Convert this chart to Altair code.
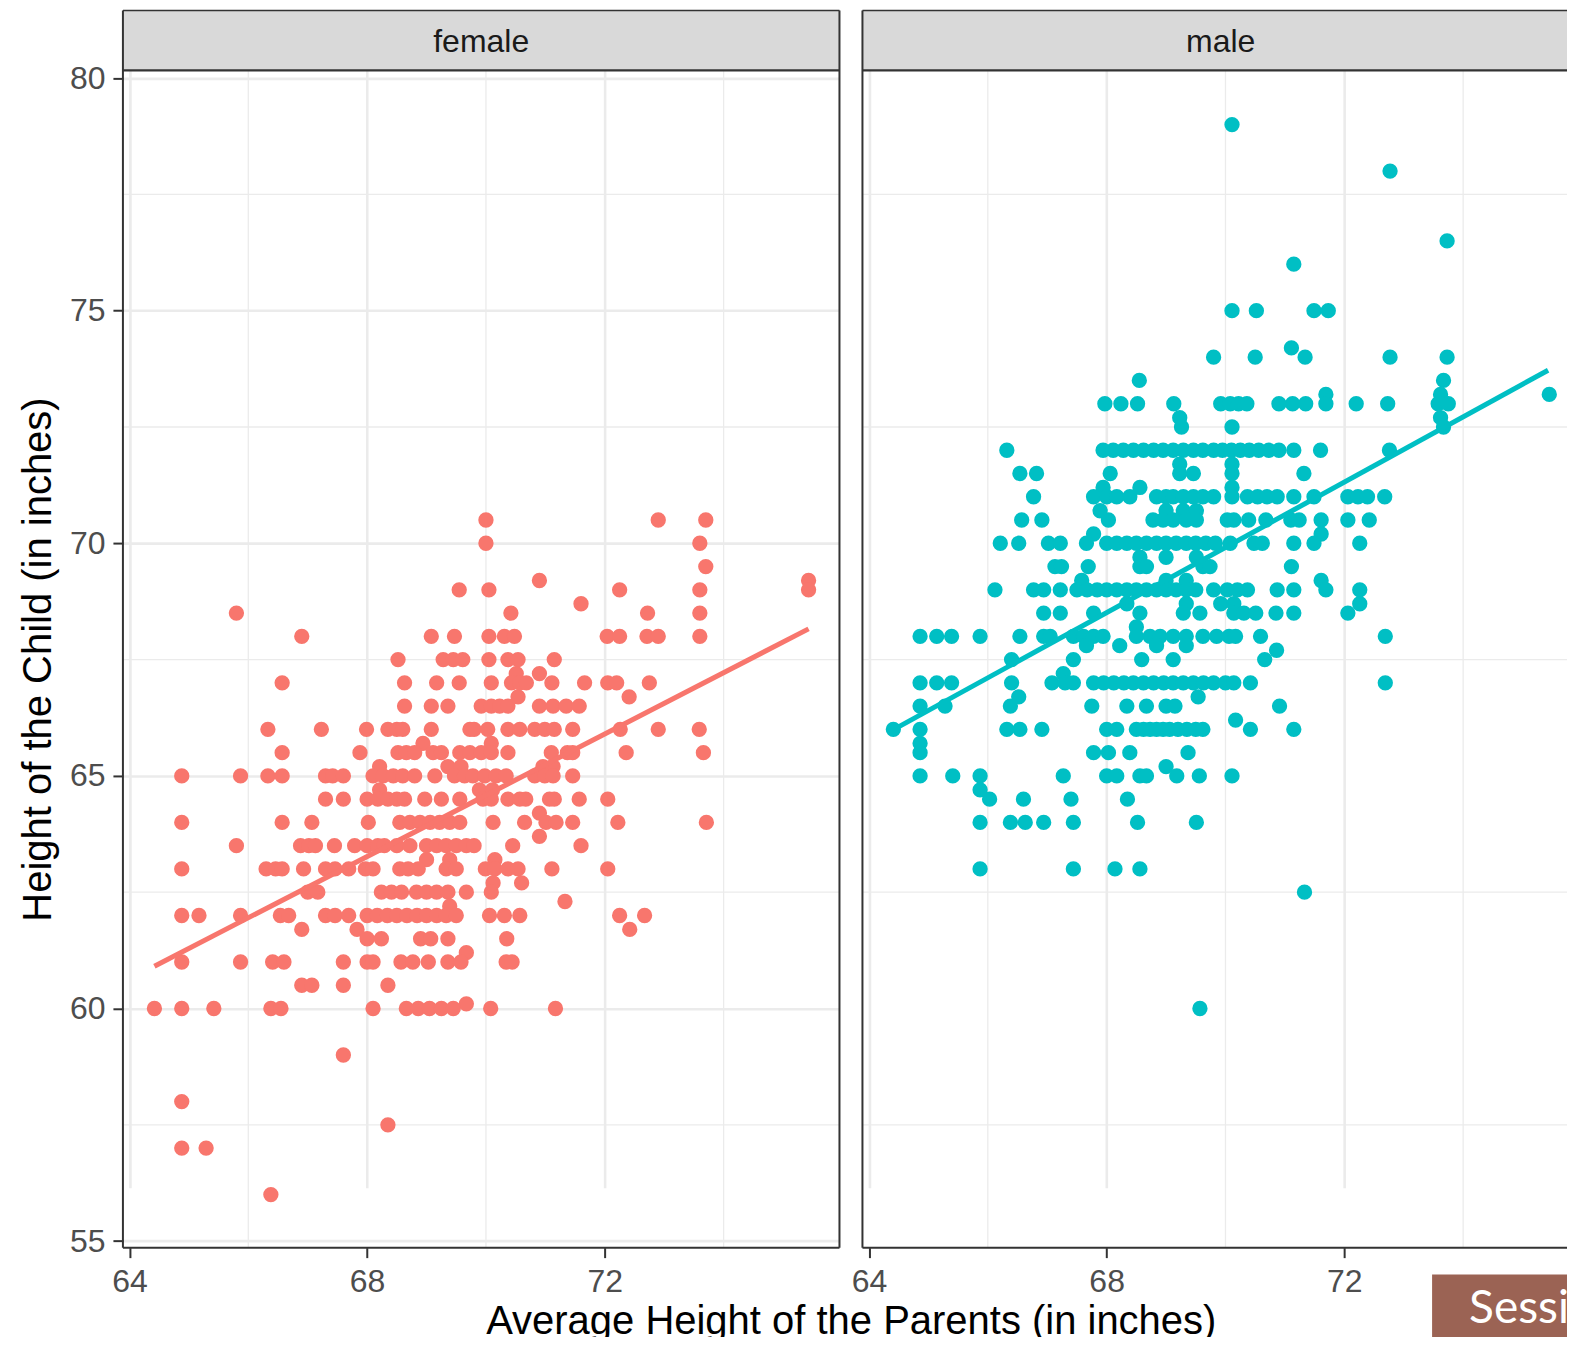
import altair as alt
import pandas as pd

# ---------------- data ----------------
panels = ["female", "male"]
panel_colors = ["#F8766D", "#00BFC4"]

# (child height, [average parent heights ...])
female_rows = [
    (70.5, [70.0, 72.9, 73.7]),
    (70.0, [70.0, 73.6]),
    (69.5, [73.7]),
    (69.2, [70.9, 75.43]),
    (69.0, [69.55, 70.05, 72.25, 73.6, 75.43]),
    (68.7, [71.6]),
    (68.5, [65.8, 70.42, 72.72, 73.6]),
    (68.0, [66.9, 69.08, 69.47, 70.05, 70.31, 70.48, 72.04, 72.25, 72.71, 72.9, 73.6]),
    (67.5, [68.52, 69.28, 69.45, 69.61, 70.05, 70.37, 70.54, 71.15]),
    (67.2, [70.51, 70.9]),
    (67.0, [66.57, 68.63, 69.17, 69.55, 70.09, 70.43, 70.57, 70.68, 71.11, 71.66, 72.05, 72.2, 72.75]),
    (66.7, [70.54, 72.41]),
    (66.5, [68.63, 69.08, 69.36, 69.92, 70.09, 70.23, 70.37, 70.9, 71.13, 71.35, 71.57]),
    (66.0, [66.33, 67.23, 67.99, 68.35, 68.5, 68.6, 69.08, 69.73, 69.8, 70.03, 70.37, 70.57,
            70.82, 70.99, 71.15, 71.46, 72.26, 72.9, 73.59]),
    (65.7, [68.94, 70.09]),
    (65.5, [66.57, 67.88, 68.52, 68.66, 68.8, 69.11, 69.25, 69.56, 69.73, 69.92, 70.09, 70.37,
            71.1, 71.37, 71.46, 72.36, 73.66]),
    (65.2, [68.21, 69.36, 69.58, 70.96, 71.13]),
    (65.0, [64.88, 65.87, 66.33, 66.57, 67.3, 67.42, 67.6, 68.1, 68.27, 68.44, 68.6, 68.8, 69.14,
            69.47, 69.64, 69.78, 69.98, 70.17, 70.34, 70.82, 70.99, 71.13, 71.46]),
    (64.7, [68.21, 69.89, 70.11]),
    (64.5, [67.3, 67.6, 68.0, 68.18, 68.35, 68.5, 68.63, 68.97, 69.25, 69.56, 69.95, 70.09, 70.37,
            70.57, 70.67, 71.07, 71.15, 71.57, 72.05]),
    (64.2, [70.9]),
    (64.0, [64.88, 66.57, 67.07, 68.02, 68.55, 68.72, 68.89, 69.06, 69.22, 69.39, 69.56, 70.12,
            70.65, 71.01, 71.18, 71.46, 72.22, 73.71]),
    (63.7, [70.9]),
    (63.5, [65.8, 66.88, 67.02, 67.13, 67.45, 67.79, 68.0, 68.18, 68.29, 68.5, 68.72, 69.0, 69.17,
            69.33, 69.5, 69.67, 69.8, 70.45, 71.6]),
    (63.2, [69.0, 69.39, 70.15]),
    (63.0, [64.88, 66.3, 66.46, 66.57, 66.93, 67.3, 67.46, 67.69, 67.97, 68.1, 68.55, 68.69, 68.86,
            69.33, 69.5, 69.99, 70.15, 70.37, 70.54, 71.11, 72.05]),
    (62.7, [70.12, 70.6]),
    (62.5, [67.0, 67.17, 68.24, 68.41, 68.58, 68.83, 69.0, 69.17, 69.36, 69.67, 70.09]),
    (62.3, [71.33]),
    (62.2, [69.39]),
    (62.0, [64.88, 65.17, 65.87, 66.54, 66.68, 67.3, 67.46, 67.69, 68.0, 68.17, 68.34, 68.5, 68.67,
            68.84, 69.0, 69.17, 69.33, 69.5, 70.06, 70.31, 70.57, 72.25, 72.67]),
    (61.7, [66.9, 67.83, 72.42]),
    (61.5, [68.0, 68.24, 68.9, 69.07, 69.36, 70.35]),
    (61.2, [69.67]),
    (61.0, [64.88, 65.87, 66.41, 66.6, 67.6, 68.0, 68.1, 68.57, 68.77, 69.03, 69.36, 69.58, 70.34, 70.44]),
    (60.5, [66.9, 67.07, 67.6, 68.35]),
    (60.1, [69.67]),
    (60.0, [64.42, 64.88, 65.42, 66.38, 66.55, 68.1, 68.66, 68.86, 69.05, 69.25, 69.45, 70.08, 71.17]),
    (59.0, [67.6]),
    (58.0, [64.88]),
    (57.5, [68.35]),
    (57.0, [64.88, 65.29]),
    (56.0, [66.38]),
]

male_rows = [
    (79.0, [70.11]),
    (78.0, [72.77]),
    (76.5, [73.73]),
    (76.0, [71.15]),
    (75.0, [70.11, 70.52, 71.49, 71.73]),
    (74.2, [71.11]),
    (74.0, [69.8, 70.5, 71.34, 72.77, 73.73]),
    (73.5, [68.55, 73.67]),
    (73.2, [71.69, 73.62, 75.45]),
    (73.0, [67.97, 68.24, 68.52, 69.13, 69.92, 70.08, 70.22, 70.36, 70.9, 71.13, 71.35, 71.69,
            72.2, 72.73, 73.58, 73.75]),
    (72.7, [69.23, 73.62]),
    (72.5, [69.26, 70.11, 73.67]),
    (72.0, [66.32, 67.94, 68.11, 68.28, 68.45, 68.62, 68.79, 68.95, 69.12, 69.29, 69.46, 69.62,
            69.8, 69.95, 70.1, 70.25, 70.4, 70.56, 70.73, 70.9, 71.15, 71.6, 72.76]),
    (71.7, [69.23, 70.11]),
    (71.5, [66.54, 66.82, 68.06, 69.23, 69.46, 70.11, 71.32]),
    (71.2, [67.94, 68.56, 70.11]),
    (71.0, [66.77, 67.78, 68.0, 68.17, 68.39, 68.84, 69.0, 69.12, 69.29, 69.46, 69.62, 69.8, 70.11,
            70.37, 70.54, 70.7, 70.87, 71.15, 71.49, 72.06, 72.23, 72.39, 72.68]),
    (70.7, [67.89, 69.0, 69.29, 69.51]),
    (70.5, [66.57, 66.91, 68.03, 68.78, 68.95, 69.12, 69.34, 69.51, 70.03, 70.14, 70.39, 70.68,
            71.1, 71.24, 71.61, 72.06, 72.42]),
    (70.2, [67.78, 71.61]),
    (70.0, [66.21, 66.52, 67.02, 67.22, 67.66, 68.0, 68.17, 68.34, 68.5, 68.67, 68.84, 69.0, 69.17,
            69.34, 69.5, 69.67, 69.83, 70.08, 70.48, 70.62, 71.15, 71.49, 72.26]),
    (69.7, [68.56, 69.0, 69.51]),
    (69.5, [67.13, 67.24, 67.69, 68.56, 68.67, 69.62, 69.74, 71.11]),
    (69.2, [67.58, 69.0, 69.34, 71.61]),
    (69.0, [66.12, 66.77, 66.94, 67.22, 67.5, 67.67, 67.84, 68.0, 68.17, 68.34, 68.5, 68.67, 68.84,
            69.0, 69.17, 69.34, 69.5, 69.8, 70.03, 70.2, 70.37, 70.87, 71.15, 71.69, 72.26]),
    (68.7, [68.34, 69.34, 69.92, 70.14, 72.26]),
    (68.5, [66.94, 67.22, 67.78, 68.56, 69.29, 69.57, 70.14, 70.31, 70.51, 70.85, 71.15, 72.06]),
    (68.2, [68.5]),
    (68.0, [64.86, 65.14, 65.39, 65.87, 66.54, 66.94, 67.05, 67.44, 67.61, 67.78, 67.94, 68.5,
            68.73, 68.9, 69.12, 69.34, 69.62, 69.85, 70.06, 70.17, 70.59, 72.69]),
    (67.8, [67.66, 68.22, 68.84, 69.34]),
    (67.7, [70.86]),
    (67.5, [66.4, 67.44, 68.59, 69.12, 70.66]),
    (67.2, [67.27]),
    (67.0, [64.86, 65.14, 65.39, 66.4, 67.08, 67.3, 67.44, 67.78, 67.95, 68.12, 68.29, 68.45, 68.62,
            68.79, 68.96, 69.12, 69.29, 69.46, 69.63, 69.8, 70.0, 70.14, 70.42, 72.69]),
    (66.7, [66.52, 69.54]),
    (66.5, [64.86, 65.28, 66.38, 67.75, 68.34, 68.67, 69.0, 69.15, 70.91]),
    (66.2, [70.17]),
    (66.0, [64.41, 64.86, 66.32, 66.54, 66.91, 68.0, 68.17, 68.5, 68.62, 68.73, 68.84, 68.95,
            69.06, 69.2, 69.35, 69.5, 69.62, 70.42, 71.15]),
    (65.7, [64.86]),
    (65.5, [64.86, 67.78, 68.03, 68.39, 69.37]),
    (65.2, [69.0]),
    (65.0, [64.86, 65.41, 65.87, 67.27, 68.0, 68.17, 68.56, 68.67, 69.18, 69.56, 70.11]),
    (64.7, [65.87]),
    (64.5, [66.03, 66.6, 67.4, 68.35]),
    (64.0, [65.87, 66.38, 66.63, 66.94, 67.44, 68.52, 69.51]),
    (63.0, [65.87, 67.44, 68.14, 68.56]),
    (62.5, [71.33]),
    (60.0, [69.57]),
]

# fitted straight lines (end points)
fit_parent = [64.42, 75.43]
fit_female = [60.91, 68.16]
fit_male = [66.0, 73.72]

x_major = [64, 68, 72]
x_minor = [66, 70, 74]
y_major = [55, 60, 65, 70, 75, 80]
y_minor = [57.5, 62.5, 67.5, 72.5, 77.5]

x_title = "Average Height of the Parents (in inches)"
y_title = "Height of the Child (in inches)"
badge_text = "Sessi"

# ---------------- styling / layout ----------------
FONT = "Liberation Sans"
W_FULL = 717          # full panel width (left panel)
W_RIGHT = 710         # right panel is cut by the picture edge
STRIP = 60
H = 1238              # strip + panel height
X_LO, X_HI = 63.89, 75.95
Y_LO, Y_HI = 54.86, 80.165
BORDER = "#333333"
GRID = "#EBEBEB"


def rows_to_frame(rows):
    return pd.DataFrame([(x, y) for y, xs in rows for x in xs], columns=["parent", "child"])


one = pd.DataFrame({"k": [0]})


def panel(label, color, rows, fit_y, width, show_y, right_border, extra):
    x_hi = X_LO + (X_HI - X_LO) * width / W_FULL
    xs = alt.Scale(domain=[X_LO, x_hi], nice=False, zero=False)
    ys = alt.Scale(domain=[Y_LO, Y_HI], range=[H, STRIP], nice=False, zero=False)
    common = dict(domain=False, ticks=True, tickColor=BORDER, tickWidth=2, tickSize=10,
                  labelFont=FONT, labelFontSize=32, labelColor="#4D4D4D",
                  labelFlush=False, labelOverlap=False, grid=True, gridColor=GRID,
                  gridWidth=2.6, format="d")
    x_axis = alt.Axis(values=x_major, title=None, labelPadding=9, **common)
    if show_y:
        y_axis = alt.Axis(values=y_major, title=y_title, titleFont=FONT, titleFontSize=40,
                          titleFontWeight="normal", titleColor="black", titlePadding=11,
                          labelPadding=8, **common)
    else:
        y_axis = None

    X = lambda f: alt.X(f, scale=xs, axis=x_axis)
    Y = lambda f: alt.Y(f, scale=ys, axis=y_axis)

    minor_v = alt.Chart(pd.DataFrame({"v": x_minor})).mark_rule(
        color=GRID, strokeWidth=1.3).encode(x=X("v:Q"))
    minor_h = alt.Chart(pd.DataFrame({"v": y_minor})).mark_rule(
        color=GRID, strokeWidth=1.3).encode(y=Y("v:Q"))
    pts = alt.Chart(rows_to_frame(rows)).mark_circle(
        size=235, opacity=1, color=color).encode(x=X("parent:Q"), y=Y("child:Q"))
    fit = alt.Chart(pd.DataFrame({"parent": fit_parent, "child": fit_y})).mark_line(
        color=color, strokeWidth=5).encode(x=X("parent:Q"), y=Y("child:Q"))

    strip = alt.Chart(one).mark_rect(fill="#D9D9D9").encode(
        x=alt.value(0), x2=alt.value(width), y=alt.value(0), y2=alt.value(STRIP))
    strip_txt = alt.Chart(pd.DataFrame({"label": [label]})).mark_text(
        font=FONT, fontSize=32, color="#1A1A1A", align="center", baseline="middle").encode(
        x=alt.value(W_FULL / 2), y=alt.value(STRIP / 2 + 2), text="label:N")

    def hrule(y, w=2):
        return alt.Chart(one).mark_rule(color=BORDER, strokeWidth=w).encode(
            x=alt.value(0), x2=alt.value(width), y=alt.value(y))

    def vrule(x):
        return alt.Chart(one).mark_rule(color=BORDER, strokeWidth=2).encode(
            x=alt.value(x), y=alt.value(0), y2=alt.value(H))

    borders = [hrule(0, 1.6), hrule(STRIP, 2.4), hrule(H), vrule(0)]
    if right_border:
        borders.append(vrule(width))

    layers = [minor_v, minor_h, pts, fit, strip, strip_txt] + borders + extra
    return alt.layer(*layers).properties(width=width, height=H)


x_title_mark = alt.Chart(one).mark_text(
    font=FONT, fontSize=40, color="black", align="center", baseline="alphabetic").encode(
    x=alt.value(728.8), y=alt.value(1324), text=alt.value(x_title))

badge = alt.Chart(one).mark_rect(fill="#9B6354").encode(
    x=alt.value(570), x2=alt.value(W_RIGHT), y=alt.value(1265), y2=alt.value(1345))
# right-aligned so that the text can never push the picture wider than the window
badge_txt = alt.Chart(one).mark_text(
    font="Lato", fontSize=46, color="white", align="right", baseline="alphabetic").encode(
    x=alt.value(707), y=alt.value(1313), text=alt.value(badge_text))

left = panel(panels[0], panel_colors[0], female_rows, fit_female, W_FULL, True, True, [x_title_mark])
right = panel(panels[1], panel_colors[1], male_rows, fit_male, W_RIGHT, False, False, [badge, badge_txt])

chart = alt.hconcat(left, right, spacing=23, bounds="flush").properties(
    padding={"left": 10, "top": 1.0, "right": -7, "bottom": -18.5},
    background="white",
).configure_view(stroke=None)

chart.save("out.html", embed_options={"renderer": "svg", "actions": False})
